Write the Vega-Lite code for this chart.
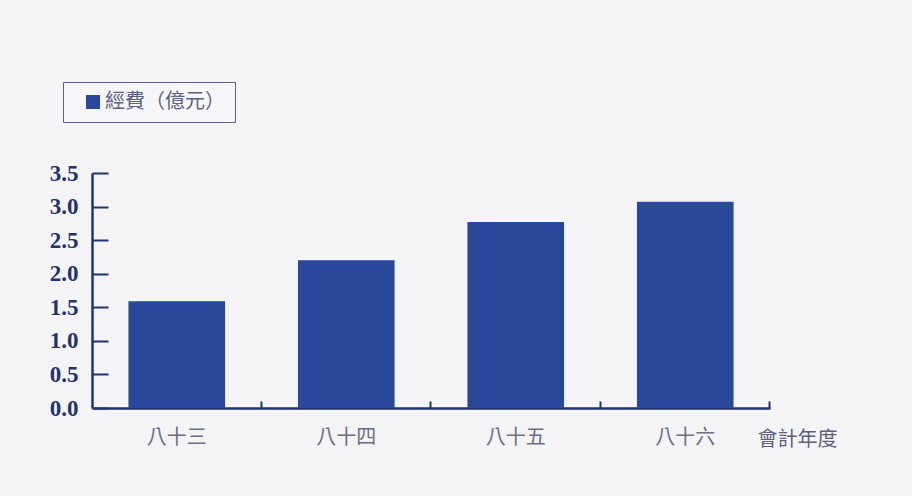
{
  "$schema": "https://vega.github.io/schema/vega-lite/v6.json",
  "width": 678,
  "height": 235,
  "autosize": "none",
  "padding": {"left": 92, "top": 173, "right": 142, "bottom": 88},
  "background": "#f4f3f6",
  "config": {"view": {"stroke": null}},
  "data": {"values": [
    {"year": "八十三", "value": 1.59, "series": "經費（億元）"},
    {"year": "八十四", "value": 2.2, "series": "經費（億元）"},
    {"year": "八十五", "value": 2.77, "series": "經費（億元）"},
    {"year": "八十六", "value": 3.07, "series": "經費（億元）"}
  ]},
  "mark": {"type": "bar"},
  "encoding": {
    "x": {
      "field": "year", "type": "nominal", "sort": null,
      "scale": {"paddingInner": 0.43, "paddingOuter": 0.215},
      "axis": {
        "title": "會計年度",
        "titleFont": "Noto Sans CJK TC", "titleFontSize": 20, "titleFontWeight": "normal", "titleColor": "#5b6080",
        "titleX": 705, "titleY": 31, "titleAlign": "center", "titleBaseline": "middle", "titleAnchor": null,
        "labelAngle": 0, "labelFont": "Noto Sans CJK TC", "labelFontSize": 20, "labelColor": "#6a6e86",
        "labelBaseline": "middle", "labelPadding": 36,
        "bandPosition": 1.376,
        "tickSize": -7, "tickColor": "#1f3572", "tickWidth": 2,
        "domainColor": "#1f3572", "domainWidth": 2.5, "grid": false
      }
    },
    "y": {
      "field": "value", "type": "quantitative",
      "scale": {"domain": [0, 3.5], "nice": false},
      "axis": {
        "title": null, "values": [0, 0.5, 1, 1.5, 2, 2.5, 3, 3.5], "format": ".1f",
        "labelFont": "Liberation Serif", "labelFontWeight": "bold", "labelFontSize": 23, "labelColor": "#1f3370",
        "labelPadding": 30,
        "tickSize": -16, "tickColor": "#1f3572", "tickWidth": 2,
        "domainColor": "#1f3572", "domainWidth": 2.5, "grid": false
      }
    },
    "color": {
      "field": "series", "type": "nominal",
      "scale": {"range": ["#29489a"]},
      "legend": {
        "title": null, "orient": "none", "legendX": -29, "legendY": -91,
        "symbolType": "square", "symbolSize": 196, "symbolStrokeWidth": 0, "symbolOffset": 10,
        "labelFont": "Noto Sans CJK TC", "labelFontSize": 20, "labelColor": "#5b6384", "labelOffset": 2,
        "padding": 10, "strokeColor": "#5b6384", "fillColor": "#f6f5f8"
      }
    }
  }
}
